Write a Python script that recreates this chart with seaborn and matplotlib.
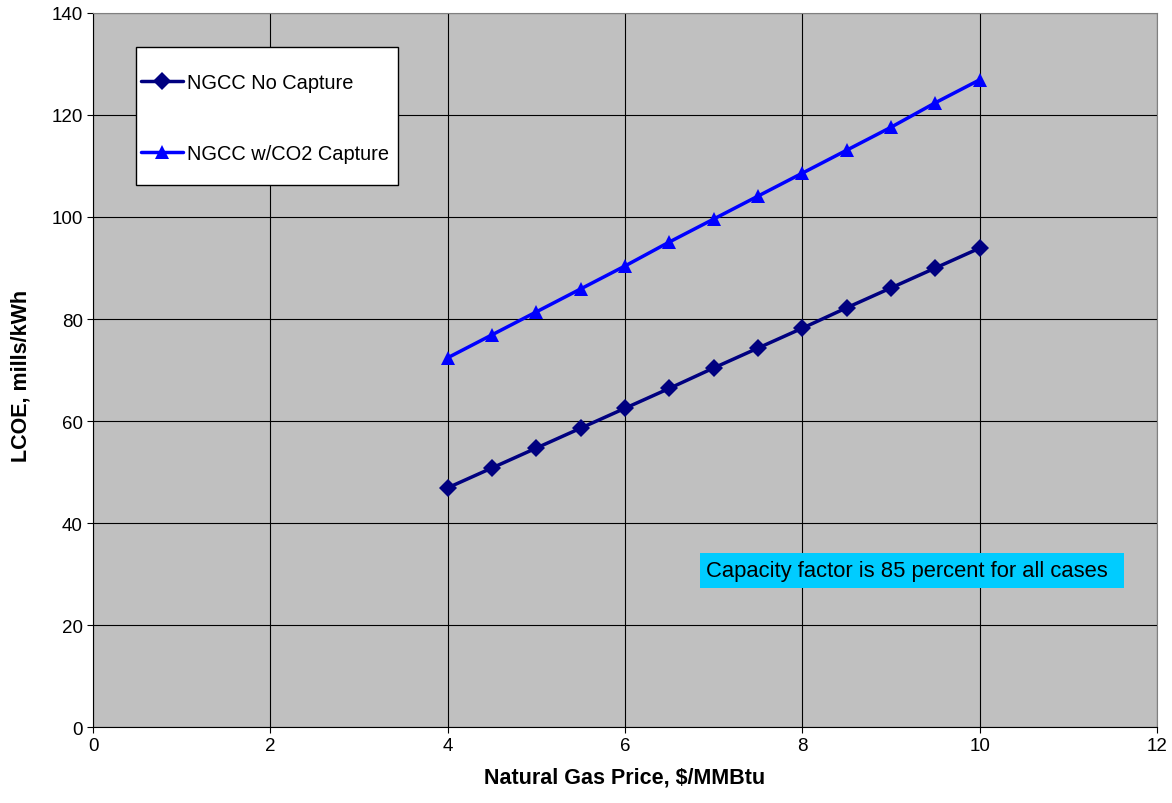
import matplotlib
matplotlib.use('Agg')
import matplotlib.pyplot as plt
from matplotlib.patches import Rectangle
import seaborn as sns
import pandas as pd

# gas price, $/MMBtu
gas_price = [4, 4.5, 5, 5.5, 6, 6.5, 7, 7.5, 8, 8.5, 9, 9.5, 10]
# LCOE, mills/kWh
lcoe_no_capture = [46.9, 50.8, 54.7, 58.6, 62.5, 66.4, 70.4, 74.3, 78.2, 82.2, 86.1, 90.0, 93.9]
lcoe_capture = [72.4, 76.9, 81.4, 85.9, 90.4, 95.1, 99.6, 104.1, 108.6, 113.1, 117.6, 122.4, 126.9]
series_names = ['NGCC No Capture', 'NGCC w/CO2 Capture']
x_ticks = [0, 2, 4, 6, 8, 10, 12]
y_ticks = [0, 20, 40, 60, 80, 100, 120, 140]

df = pd.DataFrame({
    'price': gas_price * 2,
    'lcoe': lcoe_no_capture + lcoe_capture,
    'case': [series_names[0]] * len(gas_price) + [series_names[1]] * len(gas_price),
})

sns.set_style('ticks')
plt.rcParams['font.family'] = ['Liberation Sans', 'DejaVu Sans']
plt.rcParams['text.color'] = 'black'
plt.rcParams['axes.labelcolor'] = 'black'
plt.rcParams['xtick.color'] = 'black'
plt.rcParams['ytick.color'] = 'black'

fig = plt.figure(figsize=(11.72, 8.04), dpi=100)
ax = fig.add_axes([0.0794, 0.0945, 0.9078, 0.8881])
ax.set_facecolor('#C0C0C0')

sns.lineplot(data=df, x='price', y='lcoe', hue='case', style='case',
             palette=['#000080', '#0000FF'], markers=['D', '^'], dashes=False,
             markersize=9.5, markeredgewidth=0, linewidth=2.5, ax=ax)

ax.set_xlim(0, 12)
ax.set_ylim(0, 140)
ax.set_xticks(x_ticks)
ax.set_yticks(y_ticks)
ax.grid(True, color='black', linewidth=0.8)
ax.set_axisbelow(True)
for s in ax.spines.values():
    s.set_color('#808080')
ax.spines['left'].set_color('black')
ax.spines['bottom'].set_color('black')
ax.tick_params(labelsize=13.5, length=4, direction='out')

ax.set_xlabel('Natural Gas Price, $/MMBtu', fontsize=15.5, fontweight='bold', labelpad=9)
ax.set_ylabel('LCOE, mills/kWh', fontsize=15.5, fontweight='bold')
ax.yaxis.set_label_coords(-0.058, 0.493)

# legend box
ax.add_patch(Rectangle((0.0404, 0.759), 0.2463, 0.193, transform=ax.transAxes,
                       facecolor='white', edgecolor='black', linewidth=1, zorder=4))
leg = ax.legend(loc='center left', bbox_to_anchor=(0.0455, 0.8536), fontsize=14.4,
                frameon=False, borderpad=0, labelspacing=2.6, handlelength=2.1,
                handletextpad=0.2, borderaxespad=0)
leg.set_zorder(5)
for h in leg.legend_handles:
    h.set_linewidth(2.5)

# note box
ax.add_patch(Rectangle((0.5705, 0.1947), 0.3985, 0.049, transform=ax.transAxes,
                       facecolor='#00CCFF', edgecolor='none', zorder=4))
ax.text(0.576, 0.2192, 'Capacity factor is 85 percent for all cases',
        transform=ax.transAxes, fontsize=15.8, va='center', ha='left', zorder=5)

fig.savefig('out.png', dpi=100)
